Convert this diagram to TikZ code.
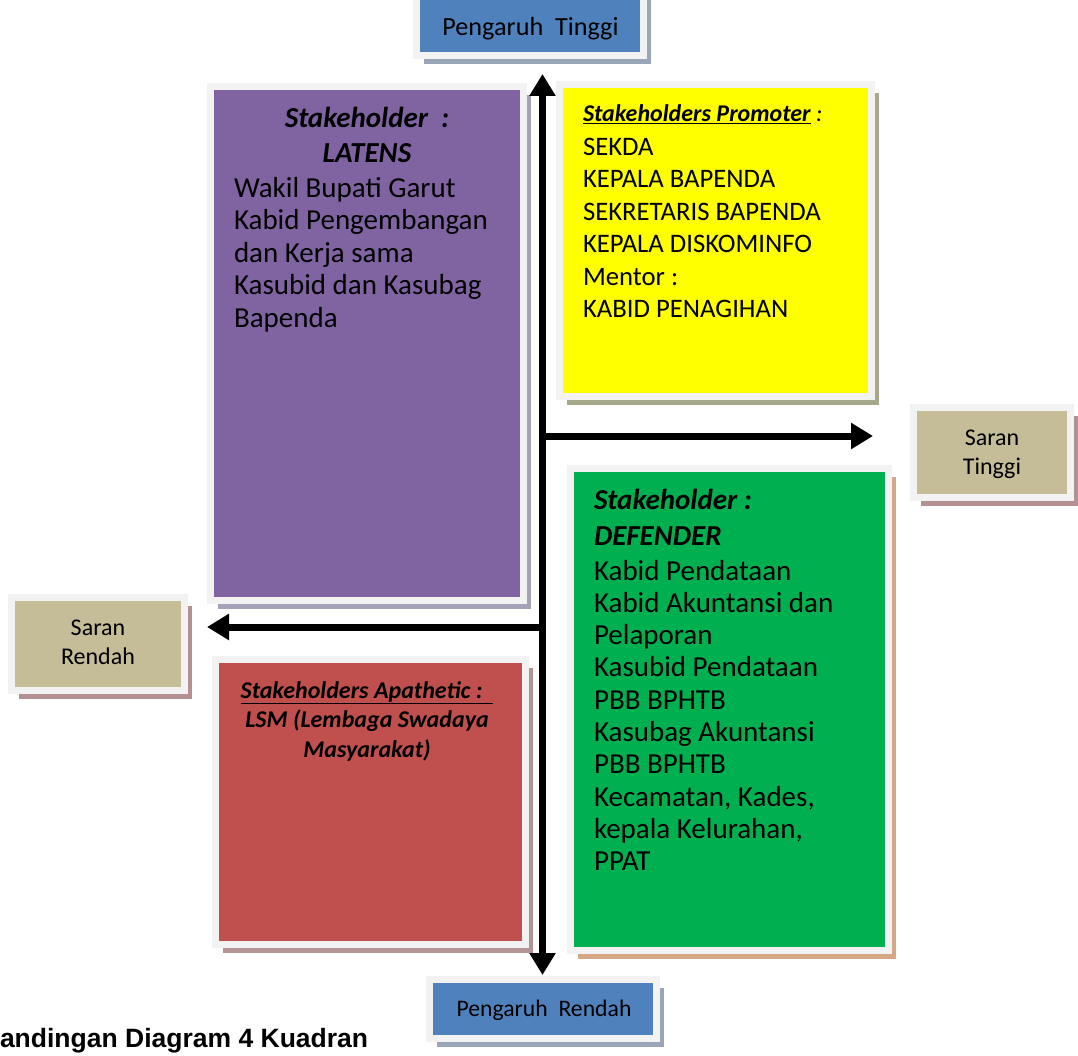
\documentclass[tikz,border=0pt]{standalone}
\usepackage{fontspec}
\setmainfont{Carlito}
\newfontfamily\capfont{Liberation Sans}
\usetikzlibrary{arrows.meta,shadows}
\definecolor{framegrey}{HTML}{F2F2F2}
\definecolor{blueF}{HTML}{4F81BD}
\definecolor{blueS}{HTML}{9AA6B8}
\definecolor{purpleF}{HTML}{8064A2}
\definecolor{purpleS}{HTML}{A6A0B8}
\definecolor{yellowF}{HTML}{FFFF00}
\definecolor{yellowS}{HTML}{A6A88A}
\definecolor{greenF}{HTML}{00B050}
\definecolor{greenS}{HTML}{D5A785}
\definecolor{redF}{HTML}{C0504D}
\definecolor{redS}{HTML}{B39494}
\definecolor{tanF}{HTML}{C4BD97}
\definecolor{tanS}{HTML}{B39192}
\begin{document}
\begin{tikzpicture}[x=1pt,y=-1pt,
  panel/.style 2 args={draw=framegrey, line width=7pt, fill=#1, inner sep=0pt, outer sep=0pt,
    drop shadow={fill=#2, opacity=1, shadow xshift=7.5pt, shadow yshift=-8.5pt}},
  txt/.style={inner sep=0pt, outer sep=0pt},
  body/.style={txt, anchor=base west, align=left, font=\fontsize{29}{32.4}\selectfont},
  headbig/.style={txt, font=\fontsize{29}{35.5}\selectfont\bfseries\itshape},
  headsmall/.style={txt, font=\fontsize{24}{29.5}\selectfont\bfseries\itshape},
  label/.style={txt, anchor=base, align=center, font=\fontsize{24}{29}\selectfont},
  axis/.style={line width=7pt},
  tip/.tip={Triangle[width=25pt,length=22pt]}
]
\useasboundingbox (0,0) rectangle (1078,1056);

% panels
\node[panel={blueF}{blueS}, minimum width=227pt, minimum height=64pt] (pt) at (530,23.5) {};
\node[panel={purpleF}{purpleS}, minimum width=313pt, minimum height=514pt] (latens) at (367,343.5) {};
\node[panel={yellowF}{yellowS}, minimum width=312pt, minimum height=312pt] (promoter) at (715.5,240.5) {};
\node[panel={greenF}{greenS}, minimum width=318pt, minimum height=482pt] (defender) at (729.5,709.5) {};
\node[panel={redF}{redS}, minimum width=310pt, minimum height=285pt] (apathetic) at (370.5,802) {};
\node[panel={tanF}{tanS}, minimum width=157pt, minimum height=90pt] (st) at (992,452.5) {};
\node[panel={tanF}{tanS}, minimum width=173pt, minimum height=93pt] (sr) at (98,644) {};
\node[panel={blueF}{blueS}, minimum width=227pt, minimum height=59pt] (pr) at (543,1009) {};

% texts (multi-line nodes: base anchor = baseline of last line)
\node[label, font=\fontsize{26.2}{30}\selectfont] (ptText) at (530.5,36) {Pengaruh\ \ Tinggi};
\node[label, font=\fontsize{23.7}{28}\selectfont] (prText) at (544,1016) {Pengaruh\ \ Rendah};
\node[label] (stText) at (992,474) {Saran\\Tinggi};
\node[label] (srText) at (98,664) {Saran\\Rendah};

\node[headbig, anchor=base, align=center] (latensHead) at (367,163) {Stakeholder\ \ :\\LATENS};
\node[body] (latensBody) at (234,327) {Wakil Bupati Garut\\Kabid Pengembangan\\dan Kerja sama\\Kasubid dan Kasubag\\Bapenda};

\node[txt, anchor=base west, font=\fontsize{24}{29}\selectfont] (promoterHead) at (583,122)
  {\textbf{\textit{\underline{Stakeholders Promoter}}}\textit{ :}};
\node[body, font=\fontsize{26.7}{32.5}\selectfont] (promoterBody) at (583,318) {SEKDA\\KEPALA BAPENDA\\SEKRETARIS BAPENDA\\KEPALA DISKOMINFO\\Mentor :\\KABID PENAGIHAN};

\node[headbig, anchor=base west, align=left] (defenderHead) at (594,545) {Stakeholder :\\DEFENDER};
\node[body, font=\fontsize{29}{32.3}\selectfont] (defenderBody) at (594,870.7) {Kabid Pendataan\\Kabid Akuntansi dan\\Pelaporan\\Kasubid Pendataan\\PBB BPHTB\\Kasubag Akuntansi\\PBB BPHTB\\Kecamatan, Kades,\\kepala Kelurahan,\\PPAT};

\node[headsmall, anchor=base, align=center] (apatheticText) at (367,757)
  {\underline{Stakeholders Apathetic :\ \ }\\LSM (Lembaga Swadaya\\Masyarakat)};

\node[txt, anchor=base west, font=\capfont\bfseries\fontsize{26.5}{30}\selectfont] (caption) at (0,1047) {andingan Diagram 4 Kuadran};

% axes
\coordinate (vtop) at (542.5,74);
\coordinate (vbot) at (542.5,975);
\coordinate (rStart) at (539,436);
\coordinate (rEnd) at (873,436);
\coordinate (lStart) at (546,627);
\coordinate (lEnd) at (207,627);
\draw[axis, tip-tip] (vtop) -- (vbot);
\draw[axis, -tip] (rStart) -- (rEnd);
\draw[axis, -tip] (lStart) -- (lEnd);
\end{tikzpicture}
\end{document}
